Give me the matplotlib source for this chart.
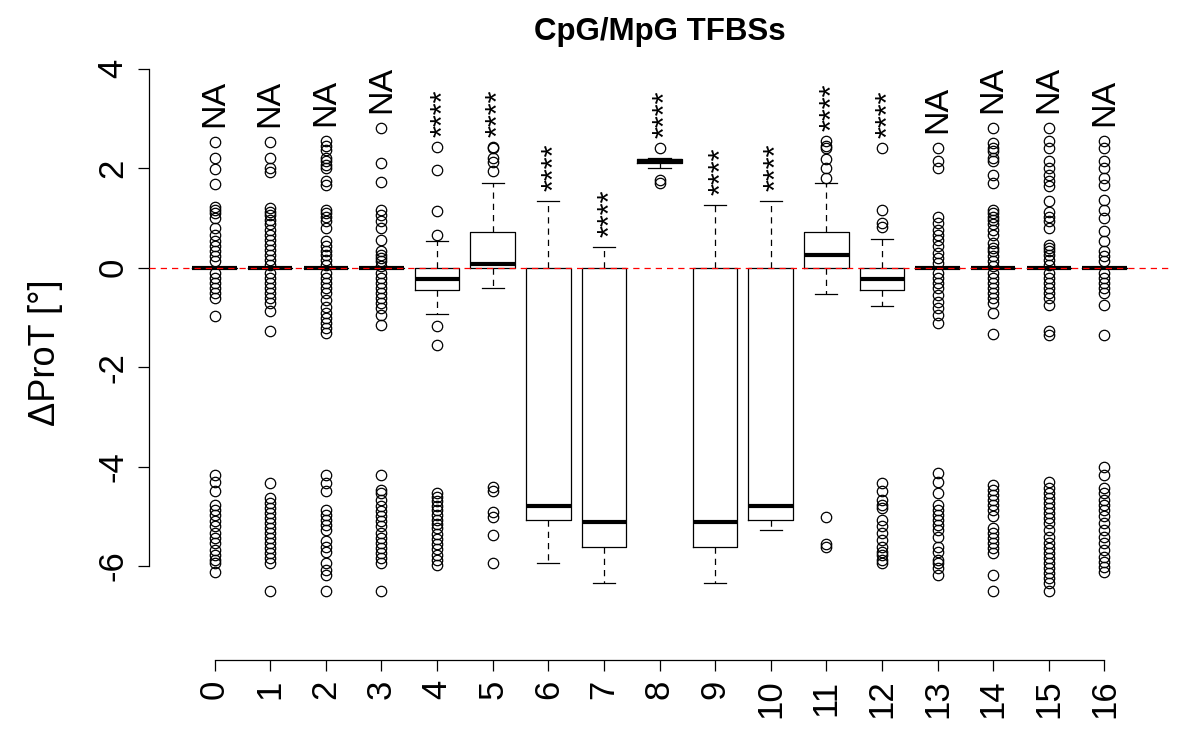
import numpy as np
import matplotlib
matplotlib.use("Agg")
import matplotlib.pyplot as plt

plt.rcParams['font.family'] = ['Liberation Sans', 'DejaVu Sans']

# group labels on the x axis
categories = [str(i) for i in range(17)]

# box statistics
q1 = [0, 0, 0, 0, -0.44, 0, -5.07, -5.61, 2.10, -5.61, -5.07, 0, -0.44, 0, 0, 0, 0]
medians = [0, 0, 0, 0, -0.22, 0.08, -4.79, -5.11, 2.15, -5.11, -4.79, 0.25, -0.22, 0, 0, 0, 0]
q3 = [0, 0, 0, 0, 0, 0.72, 0, 0, 2.19, 0, 0, 0.72, 0, 0, 0, 0, 0]
whislo = [0, 0, 0, 0, -0.93, -0.40, -5.94, -6.34, 2.01, -6.34, -5.27, -0.53, -0.77, 0, 0, 0, 0]
whishi = [0, 0, 0, 0, 0.54, 1.71, 1.35, 0.42, 2.20, 1.27, 1.35, 1.71, 0.58, 0, 0, 0, 0]

# outliers per group
fliers = [
    [2.53, 2.21, 1.99, 1.69, 1.23, 1.17, 1.10, 1.00, 0.80, 0.66, 0.53, 0.43, 0.33, 0.23, 0.13,
     -0.11, -0.21, -0.31, -0.41, -0.51, -0.61, -0.98, -4.17, -4.30, -4.50, -4.77, -4.87, -4.97,
     -5.10, -5.20, -5.34, -5.44, -5.54, -5.67, -5.77, -5.88, -5.94, -6.11],
    [2.53, 2.21, 2.00, 1.93, 1.20, 1.13, 1.07, 0.97, 0.87, 0.76, 0.66, 0.56, 0.46, 0.36, 0.26,
     0.16, 0.06, -0.11, -0.21, -0.31, -0.41, -0.51, -0.61, -0.71, -0.88, -1.28, -4.33, -4.63,
     -4.73, -4.84, -4.94, -5.04, -5.14, -5.24, -5.34, -5.44, -5.54, -5.64, -5.74, -5.84, -5.94, -6.51],
    [2.54, 2.44, 2.37, 2.21, 2.14, 2.07, 2.00, 1.74, 1.67, 1.17, 1.10, 1.03, 0.93, 0.80, 0.53,
     0.43, 0.33, 0.26, 0.16, 0.06, -0.11, -0.21, -0.31, -0.41, -0.51, -0.64, -0.78, -0.91, -1.01,
     -1.11, -1.21, -1.31, -4.17, -4.33, -4.50, -4.87, -4.97, -5.07, -5.17, -5.27, -5.50, -5.61,
     -5.71, -5.94, -6.08, -6.18, -6.51],
    [2.81, 2.11, 1.72, 1.17, 1.07, 0.93, 0.80, 0.56, 0.33, 0.26, 0.20, 0.13, 0.03, -0.11, -0.21,
     -0.31, -0.41, -0.51, -0.61, -0.71, -0.81, -0.95, -1.15, -4.17, -4.47, -4.53, -4.67, -4.80,
     -4.90, -5.00, -5.10, -5.20, -5.34, -5.44, -5.54, -5.64, -5.74, -5.84, -5.94, -6.51],
    [2.43, 1.97, 1.15, 0.66, -1.17, -1.55, -4.53, -4.62, -4.70, -4.80, -4.88, -4.97, -5.07, -5.15,
     -5.24, -5.35, -5.45, -5.55, -5.66, -5.78, -5.87, -5.98],
    [2.43, 2.41, 2.21, 2.13, 1.95, -4.41, -4.49, -4.91, -5.01, -5.37, -5.94],
    [],
    [],
    [2.41, 1.77, 1.70],
    [],
    [],
    [2.55, 2.45, 2.41, 2.19, 2.01, 1.81, -5.01, -5.55, -5.62],
    [2.41, 1.17, 0.90, 0.82, -4.32, -4.50, -4.67, -4.77, -4.84, -5.07, -5.20, -5.34, -5.47,
     -5.61, -5.71, -5.77, -5.88, -5.94],
    [2.41, 2.14, 2.00, 1.03, 0.90, 0.76, 0.66, 0.56, 0.43, 0.29, 0.20, 0.09, -0.11, -0.21, -0.31,
     -0.41, -0.54, -0.68, -0.81, -0.95, -1.11, -4.13, -4.30, -4.53, -4.77, -4.87, -4.97, -5.07,
     -5.17, -5.27, -5.41, -5.61, -5.71, -5.88, -5.94, -6.04, -6.18],
    [2.81, 2.51, 2.41, 2.35, 2.21, 2.14, 1.87, 1.70, 1.17, 1.10, 1.03, 0.97, 0.87, 0.76, 0.66,
     0.50, 0.40, 0.33, 0.23, 0.13, 0.03, -0.11, -0.21, -0.31, -0.41, -0.51, -0.61, -0.71, -0.91,
     -1.33, -4.37, -4.47, -4.57, -4.67, -4.77, -4.87, -5.00, -5.24, -5.34, -5.44, -5.54, -5.64,
     -5.74, -6.18, -6.51],
    [2.81, 2.54, 2.41, 2.14, 2.00, 1.87, 1.74, 1.64, 1.34, 1.13, 1.03, 0.93, 0.80, 0.46, 0.40,
     0.33, 0.26, 0.16, 0.06, -0.11, -0.21, -0.31, -0.41, -0.51, -0.61, -0.74, -1.27, -1.35, -4.30,
     -4.43, -4.53, -4.63, -4.73, -4.84, -4.94, -5.04, -5.14, -5.27, -5.41, -5.54, -5.64, -5.74,
     -5.84, -5.94, -6.04, -6.14, -6.24, -6.35, -6.51],
    [2.54, 2.41, 2.14, 2.00, 1.80, 1.67, 1.37, 1.17, 1.00, 0.73, 0.53, 0.33, 0.23, 0.13, -0.11,
     -0.21, -0.31, -0.41, -0.51, -0.74, -1.35, -4.00, -4.17, -4.43, -4.53, -4.67, -4.77, -4.87,
     -5.00, -5.14, -5.27, -5.41, -5.54, -5.67, -5.81, -5.91, -6.01, -6.11],
]

# significance labels above each group
annotations = ['NA'] * 4 + ['****'] * 9 + ['NA'] * 4

stats = []
for i in range(len(categories)):
    stats.append(dict(med=medians[i], q1=q1[i], q3=q3[i], whislo=whislo[i],
                      whishi=whishi[i], fliers=fliers[i]))

fig = plt.figure(figsize=(12, 7.5), dpi=100)
ax = fig.add_axes([149 / 1200, 90 / 750, (1170 - 149) / 1200, (660 - 46) / 750])

pos = np.arange(len(categories))
ax.bxp(stats, positions=pos, widths=0.8, capwidths=0.4, patch_artist=False,
       boxprops=dict(color='black', linewidth=0.9),
       whiskerprops=dict(color='black', linewidth=0.9, linestyle=(0, (5, 4))),
       capprops=dict(color='black', linewidth=0.9),
       medianprops=dict(color='black', linewidth=3.0, solid_capstyle='butt'),
       flierprops=dict(marker='o', markerfacecolor='none', markeredgecolor='black',
                       markersize=7.5, markeredgewidth=0.9))

ax.axhline(0, color='red', linestyle=(0, (5, 4)), linewidth=0.9, zorder=5)

# labels above each box
for i, lab in enumerate(annotations):
    top = max([whishi[i]] + fliers[i])
    if lab == 'NA':
        ax.text(pos[i], top + 0.31, lab, rotation=90, ha='center', va='bottom',
                fontsize=24.5)
    else:
        ax.text(pos[i] + 0.13, top + 0.2, lab, rotation=90, ha='center', va='bottom',
                fontsize=22)

ax.set_xlim(-1.18, 17.18)
ax.set_ylim(-7.89, 4.46)
ax.set_xticks(pos)
ax.set_xticklabels(categories, rotation=90, fontsize=25)
ax.set_yticks([-6, -4, -2, 0, 2, 4])
ax.set_yticklabels(['-6', '-4', '-2', '0', '2', '4'], rotation=90, va='center', fontsize=25)
ax.tick_params(axis='both', length=8, width=0.9, pad=6)

for s in ['top', 'right']:
    ax.spines[s].set_visible(False)
ax.spines['left'].set_bounds(-6, 4)
ax.spines['bottom'].set_bounds(0, 16)
ax.spines['left'].set_linewidth(0.9)
ax.spines['bottom'].set_linewidth(0.9)

ax.set_ylabel('ΔProT [°]', fontsize=26, labelpad=24)
fig.text(660 / 1200, 1 - 32 / 750, 'CpG/MpG TFBSs', ha='center', va='center',
         fontsize=22.5, fontweight='bold')

fig.savefig('out.png', dpi=100)
